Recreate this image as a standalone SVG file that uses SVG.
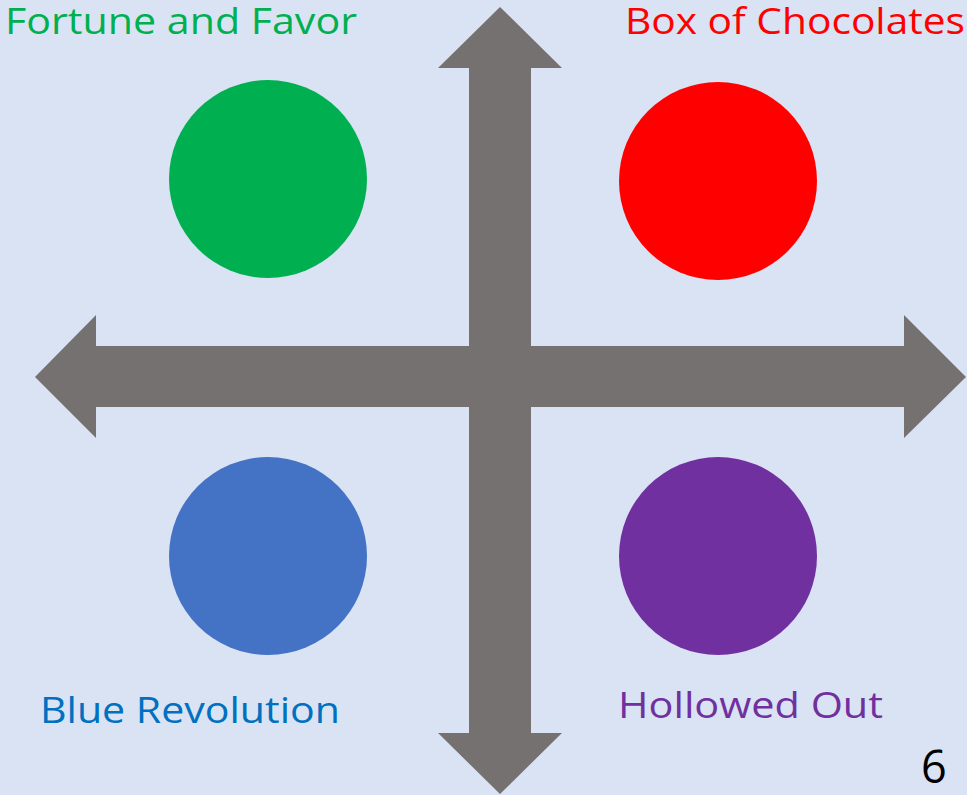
<svg xmlns="http://www.w3.org/2000/svg" width="967" height="795" viewBox="0 0 967 795">
<style>
.lbl{font-family:"Open Sans","Noto Sans","Liberation Sans",sans-serif;font-size:36px}
.arrow{fill:#767171}
</style>
<rect width="967" height="795" fill="#DAE3F3"/>
<g id="axes">
<polygon class="arrow" points="500,7 562,68 531,68 531,733 562,733 500,794 438,733 469,733 469,68 438,68"/>
<polygon class="arrow" points="35,377 96,315 96,346 904,346 904,315 966,377 904,438 904,407 96,407 96,438"/>
</g>
<g id="fortune"><circle cx="268" cy="179" r="99" fill="#00B050"/><text class="lbl" x="5" y="34" fill="#00B050" textLength="352" lengthAdjust="spacingAndGlyphs">Fortune and Favor</text></g>
<g id="box"><circle cx="718" cy="181" r="99" fill="#FF0000"/><text class="lbl" x="625" y="34" fill="#FF0000" textLength="340" lengthAdjust="spacingAndGlyphs">Box of Chocolates</text></g>
<g id="blue"><circle cx="268" cy="556" r="99" fill="#4472C4"/><text class="lbl" x="40" y="723" fill="#0070C0" textLength="300" lengthAdjust="spacingAndGlyphs">Blue Revolution</text></g>
<g id="hollowed"><circle cx="718" cy="556" r="99" fill="#7030A0"/><text class="lbl" x="618" y="718" fill="#7030A0" textLength="265" lengthAdjust="spacingAndGlyphs">Hollowed Out</text></g>
<text class="lbl" x="921" y="783" fill="#000000" font-size="44" style="font-size:45px">6</text>
</svg>
